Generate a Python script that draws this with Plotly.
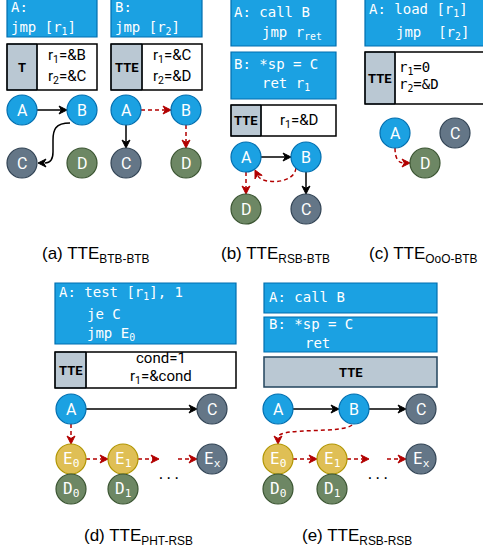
import math
import plotly.graph_objects as go

# ---------------- content (text) ----------------
captions = ["(a) TTE<sub>BTB-BTB</sub>", "(b) TTE<sub>RSB-BTB</sub>", "(c) TTE<sub>OoO-BTB</sub>",
            "(d) TTE<sub>PHT-RSB</sub>", "(e) TTE<sub>RSB-RSB</sub>"]

code_lines = [
    ("A:", "a1"), ("jmp [r<sub>1</sub>]", "a1"),
    ("B:", "a2"), ("jmp [r<sub>2</sub>]", "a2"),
    ("A: call B", "b1"), ("jmp r<sub>ret</sub>", "b1"),
    ("B: *sp = C", "b2"), ("ret r<sub>1</sub>", "b2"),
    ("A: load [r<sub>1</sub>]", "c1"), ("jmp&nbsp;&nbsp;[r<sub>2</sub>]", "c1"),
    ("A: test [r<sub>1</sub>], 1", "d1"), ("je C", "d1"), ("jmp E<sub>0</sub>", "d1"),
    ("A: call B", "e1"), ("B: *sp = C", "e2"), ("ret", "e2"),
]
code_pos = [(10, 7), (10, 28), (114, 7), (114, 28),
            (233, 12), (261, 33), (233, 64), (261, 84),
            (368, 10), (395, 33),
            (58, 293), (86, 314), (86, 334),
            (268, 297), (268, 324), (304, 343)]

table_labels = ["T", "TTE", "TTE", "TTE", "TTE", "TTE"]
table_values = [["r<sub>1</sub>=&amp;B", "r<sub>2</sub>=&amp;C"],
                ["r<sub>1</sub>=&amp;C", "r<sub>2</sub>=&amp;D"],
                ["r<sub>1</sub>=&amp;D"],
                ["r<sub>1</sub>=0", "r<sub>2</sub>=&amp;D"],
                ["cond=1", "r<sub>1</sub>=&amp;cond"],
                []]

node_ids = ["a1A", "a1B", "a1C", "a1D", "a2A", "a2B", "a2C", "a2D",
            "bA", "bB", "bC", "bD", "cA", "cC", "cD",
            "dA", "dC", "dE0", "dE1", "dEx", "dD0", "dD1",
            "eA", "eB", "eC", "eE0", "eE1", "eEx", "eD0", "eD1"]
node_labels = ["A", "B", "C", "D", "A", "B", "C", "D",
               "A", "B", "C", "D", "A", "C", "D",
               "A", "C", "E<sub>0</sub>", "E<sub>1</sub>", "E<sub>x</sub>", "D<sub>0</sub>", "D<sub>1</sub>",
               "A", "B", "C", "E<sub>0</sub>", "E<sub>1</sub>", "E<sub>x</sub>", "D<sub>0</sub>", "D<sub>1</sub>"]
node_kinds = ["blue", "blue", "slate", "green", "blue", "blue", "slate", "green",
              "blue", "blue", "slate", "green", "blue", "slate", "green",
              "blue", "slate", "yellow", "yellow", "slate", "green", "green",
              "blue", "blue", "slate", "yellow", "yellow", "slate", "green", "green"]

# straight edges: (from, to, style)
edges = [("a1A", "a1B", "solid"),
         ("a2A", "a2B", "dash"), ("a2A", "a2C", "solid"), ("a2B", "a2D", "dash"),
         ("bA", "bB", "solid"), ("bB", "bC", "solid"), ("bA", "bD", "dash"),
         ("dA", "dC", "solid"), ("dA", "dE0", "dash"), ("dE0", "dE1", "dash"),
         ("dE1", "dL", "dash"), ("dR", "dEx", "dash"),
         ("eA", "eB", "solid"), ("eB", "eC", "solid"), ("eE0", "eE1", "dash"),
         ("eE1", "eL", "dash"), ("eR", "eEx", "dash")]

# ---------------- layout geometry ----------------
R = 15
pos = {"a1A": (22, 110), "a1B": (82, 110), "a1C": (22, 163), "a1D": (82, 163),
       "a2A": (126, 110), "a2B": (186, 110), "a2C": (126, 163), "a2D": (186, 163),
       "bA": (246, 157), "bB": (306, 157), "bD": (246, 209), "bC": (306, 209),
       "cA": (395, 133), "cC": (455, 133), "cD": (425, 163),
       "dA": (71, 409), "dC": (212, 409), "dE0": (71, 459), "dE1": (123, 459), "dEx": (212, 459),
       "dD0": (71, 489), "dD1": (123, 489),
       "eA": (278, 409), "eB": (354, 409), "eC": (421, 409), "eE0": (278, 459), "eE1": (332, 459),
       "eEx": (421, 459), "eD0": (278, 489), "eD1": (332, 489),
       "dL": (159, 459), "dR": (178, 459), "eL": (369, 459), "eR": (387, 459)}
pseudo = {"dL", "dR", "eL", "eR"}

code_boxes = {"a1": (7, -2, 97, 37), "a2": (111, -2, 202, 37),
              "b1": (231, -2, 336, 46), "b2": (231, 52, 336, 99),
              "c1": (365, -2, 495, 46),
              "d1": (55, 283, 236, 344),
              "e1": (264, 283, 437, 313), "e2": (264, 317, 437, 352)}
# tables: x0, y0, xsplit, x1, y1, value anchor mode, row fractions
tables = [(7, 44, 37, 97, 90, "center", (0.25, 0.72)),
          (111, 44, 142, 202, 90, "center", (0.25, 0.72)),
          (231, 105, 261, 336, 136, "center", (0.5,)),
          (365, 52, 395, 495, 104, "left", (0.31, 0.64)),
          (55, 352, 86, 236, 388, "center", (0.18, 0.7)),
          (264, 357, None, 437, 387, "center", ())]
caption_pos = [(40, 255), (219, 255), (367, 255), (82, 537), (300, 537)]
dots_pos = [(168, 474), (377, 474)]

colors = {"blue": ("#1ba1e2", "#006eaf"), "slate": ("#647687", "#314354"),
          "green": ("#6d8764", "#3a5431"), "yellow": ("#dfbf55", "#b09500")}
RED = "#b20000"
MONO = "DejaVu Sans Mono"
SANS = "Roboto"

shapes, annots = [], []


def head(tip, d, color, L=8, w=4):
    n = math.hypot(*d)
    ux, uy = d[0] / n, d[1] / n
    px, py = -uy, ux
    bx, by = tip[0] - L * ux, tip[1] - L * uy
    nx, ny = tip[0] - 0.7 * L * ux, tip[1] - 0.7 * L * uy
    p = (f"M{tip[0]},{tip[1]} L{bx + w * px},{by + w * py} L{nx},{ny} "
         f"L{bx - w * px},{by - w * py} Z")
    shapes.append(dict(type="path", path=p, fillcolor=color, line=dict(color=color, width=1),
                       layer="above"))


def straight(a, b, style):
    (x0, y0), (x1, y1) = pos[a], pos[b]
    d = (x1 - x0, y1 - y0)
    n = math.hypot(*d)
    ux, uy = d[0] / n, d[1] / n
    ra = 0 if a in pseudo else R
    rb = 0 if b in pseudo else R
    s = (x0 + ra * ux, y0 + ra * uy)
    t = (x1 - rb * ux, y1 - rb * uy)
    color = "black" if style == "solid" else RED
    shapes.append(dict(type="line", x0=s[0], y0=s[1], x1=t[0] - 5 * ux, y1=t[1] - 5 * uy,
                       line=dict(color=color, width=1.5,
                                 dash="solid" if style == "solid" else "4px,3px"),
                       layer="above"))
    head(t, (ux, uy), color)


def curve(path, tip, d, style):
    color = "black" if style == "solid" else RED
    shapes.append(dict(type="path", path=path,
                       line=dict(color=color, width=1.5,
                                 dash="solid" if style == "solid" else "4px,3px"),
                       layer="above"))
    head(tip, d, color)


def text(x, y, s, size, family, color="black", xanchor="center", bold=False):
    if bold:
        s = "<b>" + s + "</b>"
    annots.append(dict(x=x, y=y, xref="x", yref="y", text=s, showarrow=False,
                       xanchor=xanchor, yanchor="middle",
                       font=dict(size=size, family=family, color=color)))


# code boxes
for key, (x0, y0, x1, y1) in code_boxes.items():
    shapes.append(dict(type="rect", x0=x0, y0=y0, x1=x1, y1=y1,
                       fillcolor="#1ba1e2", line=dict(color="#006eaf", width=1.2)))
for (s, key), (x, y) in zip(code_lines, code_pos):
    text(x - 1, y, s.replace(" ", "&nbsp;") if s.startswith(("A:", "B:")) else s,
         14, MONO, "white", "left")

# tables
for lab, vals, (x0, y0, xs, x1, y1, mode, fr) in zip(table_labels, table_values, tables):
    if xs is None:
        shapes.append(dict(type="rect", x0=x0, y0=y0, x1=x1, y1=y1, fillcolor="#bac8d3",
                           line=dict(color="#23445d", width=1.5)))
        text((x0 + x1) / 2, (y0 + y1) / 2, lab, 13, SANS, bold=True)
        continue
    shapes.append(dict(type="rect", x0=x0, y0=y0, x1=xs, y1=y1, fillcolor="#bac8d3",
                       line=dict(color="#23445d", width=1)))
    shapes.append(dict(type="rect", x0=x0, y0=y0, x1=x1, y1=y1, fillcolor="rgba(0,0,0,0)",
                       line=dict(color="black", width=1.5)))
    shapes.append(dict(type="line", x0=xs, y0=y0, x1=xs, y1=y1,
                       line=dict(color="black", width=1.5)))
    text((x0 + xs) / 2, (y0 + y1) / 2, lab, 13, SANS, bold=True)
    h = y1 - y0
    for v, f in zip(vals, fr):
        yy = y0 + h * f
        if mode == "left":
            text(xs + 2, yy, v, 14, MONO, xanchor="left")
        else:
            text((xs + x1) / 2, yy, v, 15, SANS)

# edges
for a, b, st in edges:
    straight(a, b, st)
curve("M70,123 C55,123 53,130 53,140 L53,152 C53,160 50,163 45,163", (38, 163), (-1, 0), "solid")
curve("M296,168 C294,185 262,184 258,176", (255, 170), (-3, -6), "dash")
curve("M395,148 C395,158 398,163 404,163", (410, 163), (1, 0), "dash")
curve("M352,425 C342,434 280,427 278,437", (278, 444), (0, 1), "dash")

# nodes
for nid, lab, kind in zip(node_ids, node_labels, node_kinds):
    cx, cy = pos[nid]
    fc, lc = colors[kind]
    shapes.append(dict(type="circle", x0=cx - R, y0=cy - R, x1=cx + R, y1=cy + R,
                       fillcolor=fc, line=dict(color=lc, width=1.2), layer="above"))
    fam = MONO if "<sub>" in lab else SANS
    text(cx, cy, lab, 16, fam, "white")

for x, y in dots_pos:
    text(x, y, "...", 13, MONO)

for c, (x, y) in zip(captions, caption_pos):
    text(x, y, c, 17, "Liberation Sans", xanchor="left")

fig = go.Figure()
fig.update_layout(width=483, height=554, autosize=False,
                  margin=dict(l=0, r=0, t=0, b=0),
                  paper_bgcolor="white", plot_bgcolor="white",
                  xaxis=dict(range=[0, 483], visible=False, fixedrange=True),
                  yaxis=dict(range=[554, 0], visible=False, fixedrange=True),
                  shapes=shapes, annotations=annots, showlegend=False)
fig.write_html("out.html", config={"displayModeBar": False, "staticPlot": True},
               post_script="document.body.style.margin='0';document.body.style.overflow='hidden';")
